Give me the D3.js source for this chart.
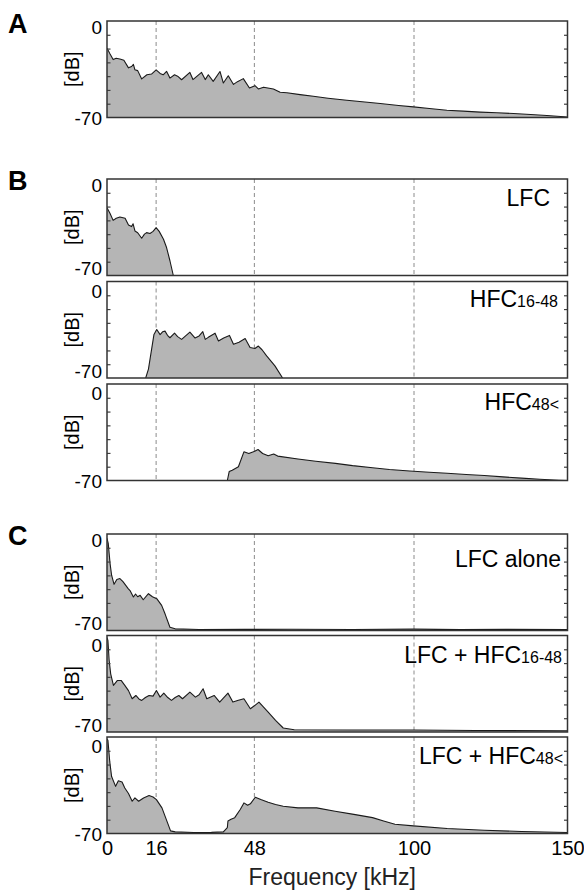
<!DOCTYPE html>
<html><head><meta charset="utf-8">
<script src="https://cdn.jsdelivr.net/npm/d3@7"></script>
<style>
html,body{margin:0;padding:0;background:#fff;}
text{font-family:"Liberation Sans",Arial,Helvetica,sans-serif;}
</style></head>
<body><svg id="chart" width="584" height="891"></svg>
<script>
// ---- data (frequency in kHz, level in dB) ----
const xTicks = [0, 16, 48, 100, 150];
const dashedFreqs = [16, 48, 100];
const yLabelValues = [0, -70];
const yMinorTicks = [-10, -20, -30, -40, -50, -60];

const aFreq = [0,1,2,3,4.2,5.5,7,8,8.6,9.1,10,11.3,13,14.5,16,17.3,18.3,19.4,20.5,22,23,24.3,27,28,30.8,32,33,34.6,36.8,37.9,39.5,41.2,42.5,44.4,46.4,48.2,49.3,51,54.2,56.4,58.6,62.9,67.2,72,78.1,84,89,95,99.8,105,110.7,116,121.6,127,132.4,138,143.3,150];
const aDb   = [-19.7,-24,-28,-27,-27.6,-28.5,-34,-33,-31.5,-35.4,-36,-42,-39,-38.5,-35.4,-38,-39,-36.5,-41.4,-39,-40,-42.6,-37.3,-42.5,-37.3,-42.5,-39,-43.8,-36.6,-45,-39.7,-46,-44,-41.8,-48.6,-46.9,-49.3,-48,-49.3,-51.7,-52,-53.4,-54.6,-56,-57.5,-58.8,-59.9,-61.3,-62.3,-63.5,-64.7,-65.4,-66.1,-66.6,-67.1,-67.8,-68.5,-69.6];

const lfcFreq = [0,1,2,3,4.2,5.9,7,8,8.5,9.1,10,11.3,12.2,12.9,14,15,16,17,18.4,19.4,20.5,21.6];
const lfcDb   = [-20.9,-25,-30,-28.5,-27.6,-28.5,-33.4,-34.5,-32.5,-37.7,-39,-43,-40,-38.9,-39.5,-38,-35.3,-38,-43.7,-49.7,-59.3,-70];

const hfc1648Freq = [12.6,13.5,15.3,16.2,17.3,18.1,18.9,19.7,20.5,22,23,24.3,27,28.7,30,31.2,32,33,35.2,36.3,38,39.9,41.2,43,45,46.6,48.2,49.3,50.5,52,54.7,57.2];
const hfc1648Db   = [-70,-63.5,-38.4,-34.8,-38.5,-36.5,-36,-39,-40.8,-37.5,-40,-42,-36.7,-41,-39.5,-36.4,-42,-40.5,-37.5,-43.2,-41,-39.1,-45.5,-44,-41.4,-47.9,-48.6,-46.8,-49.5,-54,-61.2,-70];

const hfc48Freq = [39.2,39.8,40.8,42.8,44.6,46.2,47.7,49.2,50.7,52.5,54.3,55.6,62.2,68,74.4,80,86.5,92,98.6,105,110.8,117,122.9,129,135,141,147.2,150];
const hfc48Db   = [-70,-63.5,-62.5,-60,-49.2,-50.4,-49.2,-47.5,-50.4,-52,-50.8,-52.3,-54.4,-56,-57.6,-59.2,-60.7,-62,-63.1,-64,-64.7,-65.6,-66.4,-67.4,-68.3,-69.1,-69.8,-70];

const lfcAloneFreq = [0,0.4,1,1.5,2.3,3.2,4.2,5.2,6.9,7.5,8.6,9.3,10,10.8,11.8,13.5,14.8,16.2,17.8,18.9,20.5,22.2,30,45,60,80,100,115,130,150];
const lfcAloneDb   = [-3.1,-6.8,-21.4,-29.9,-36.5,-33,-32.3,-34.5,-39.6,-41,-45.7,-43.5,-45.5,-44.5,-47.7,-43.3,-45.5,-46.9,-51.8,-57.9,-67.6,-68.8,-69.3,-69.2,-69.1,-69.3,-69,-69.4,-69.2,-69.3];

const lfcHfc1648Freq = [0,0.3,0.7,1.2,2.1,3.4,4.6,5.8,7,8.2,9.4,10.4,11.3,12.5,13.7,15,16.1,17.3,18.5,19.8,21,22.2,23.4,24.6,27,28.8,30,31.3,32.5,34.9,36.7,39.4,41,42.8,44.6,46.7,48,49.5,52.5,54.9,57.4,61,80,100,120,150];
const lfcHfc1648Db   = [-1.5,-3.6,-18,-27.8,-36.2,-32.6,-32.6,-36.2,-40,-45.9,-43.5,-46,-47.1,-45,-43.5,-44,-39.9,-44.7,-41.8,-45,-47.1,-45,-43.5,-45.9,-41.1,-44.7,-43,-38.6,-45.9,-43.5,-48.3,-41.8,-48.3,-47,-45.9,-53.1,-51,-48.3,-55.6,-61.6,-67.1,-68.4,-68.6,-68.5,-68.9,-69.2];

const lfcHfc48Freq = [0,0.3,0.9,1.5,2.8,3.7,4.9,5.8,7,8.2,9.1,10.3,11.9,13.7,15,16.1,17.9,19.7,20.7,22.2,28.2,34,37.9,39.2,39.4,40.4,41.6,43.4,44.6,45.8,46.7,48.3,50.1,52.5,54.9,57.4,62.2,68.3,74.3,80.4,86.5,90.1,93.8,99.8,110.8,122.9,135,150];
const lfcHfc48Db   = [-1.5,-2.4,-17.9,-28.7,-35.8,-31.8,-32.7,-37,-41,-46.6,-44.2,-46.6,-44.2,-42.5,-43.5,-45.4,-51.4,-62.1,-68.1,-68.8,-69.3,-69.2,-68.8,-65.7,-60.9,-59.7,-58.5,-52.6,-47.8,-49.5,-48.5,-43.7,-45.4,-47.3,-49,-50.2,-51.4,-51.4,-53.8,-56.1,-58.5,-60.9,-63.3,-64.5,-66.4,-67.6,-68.6,-69.3];

const panelLabels = [null, "LFC", "HFC|16-48", "HFC|48<", "LFC alone", "LFC + HFC|16-48", "LFC + HFC|48<"];
const groupLetters = ["A", "B", "C"];

// ---- layout ----
const svg = d3.select("#chart");
const left = 107, right = 567.5, ph = 96.5;
const panels = [
  {top: 21,    f: aFreq,          d: aDb,          group: 0},
  {top: 179,   f: lfcFreq,        d: lfcDb,        group: 1},
  {top: 281.5, f: hfc1648Freq,    d: hfc1648Db,    group: 1},
  {top: 384,   f: hfc48Freq,      d: hfc48Db,      group: 1},
  {top: 534,   f: lfcAloneFreq,   d: lfcAloneDb,   group: 2},
  {top: 635.5, f: lfcHfc1648Freq, d: lfcHfc1648Db, group: 2},
  {top: 737,   f: lfcHfc48Freq,   d: lfcHfc48Db,   group: 2}
];
const labelStyle = [null,
  {x: 550, dy: 27}, {x: 558, dy: 25}, {x: 559, dy: 26},
  {x: 561, dy: 33}, {x: 562, dy: 27}, {x: 563, dy: 27}];

const x = d3.scaleLinear().domain([0, 150]).range([left, right]);
const defs = svg.append("defs");

panels.forEach((p, i) => {
  const bottom = p.top + ph;
  const y = d3.scaleLinear().domain([-70, 0]).range([bottom, p.top]);
  const g = svg.append("g");
  defs.append("clipPath").attr("id", "clip" + i)
    .append("rect").attr("x", left).attr("y", p.top).attr("width", right - left).attr("height", ph);
  const inner = g.append("g").attr("clip-path", `url(#clip${i})`);

  // dashed reference lines (behind the spectrum)
  inner.selectAll("line.dash").data(dashedFreqs).join("line")
    .attr("x1", d => x(d)).attr("x2", d => x(d))
    .attr("y1", p.top).attr("y2", bottom)
    .attr("stroke", "#8c8c8c").attr("stroke-width", 1).attr("stroke-dasharray", "4,3");

  const pts = p.f.map((f, k) => [f, p.d[k]]);
  const area = d3.area().x(d => x(d[0])).y0(bottom).y1(d => y(d[1]));
  const line = d3.line().x(d => x(d[0])).y(d => y(d[1]));
  inner.append("path").datum(pts).attr("d", area).attr("fill", "#b5b5b5");
  inner.append("path").datum(pts).attr("d", line).attr("fill", "none")
    .attr("stroke", "#1a1a1a").attr("stroke-width", 1.1).attr("stroke-linejoin", "round");

  // inward minor ticks left and right
  const axL = d3.axisLeft(y).tickValues(yMinorTicks).tickSize(-3.5).tickFormat("");
  const axR = d3.axisRight(y).tickValues(yMinorTicks).tickSize(-3.5).tickFormat("");
  const gl = g.append("g").attr("transform", `translate(${left},0)`).call(axL);
  const gr = g.append("g").attr("transform", `translate(${right},0)`).call(axR);
  [gl, gr].forEach(a => { a.select(".domain").remove(); a.selectAll("line").attr("stroke", "#404040").attr("stroke-width", 1.2); });

  // frame
  g.append("rect").attr("x", left).attr("y", p.top).attr("width", right - left).attr("height", ph)
    .attr("fill", "none").attr("stroke", "#333").attr("stroke-width", 1.5);

  // y labels 0 and -70
  const next = panels[i + 1];
  const stacked = next && (next.top - bottom) < 12;
  const prev = panels[i - 1];
  const afterStack = prev && (p.top - (prev.top + ph)) < 12;
  g.selectAll("text.yl").data(yLabelValues).join("text")
    .attr("x", left - 5)
    .attr("y", d => d === 0 ? y(d) + (afterStack ? 9.5 : 6) : y(d) + (stacked ? -7 : 1))
    .attr("dy", "0.36em").attr("text-anchor", "end")
    .attr("font-size", 19).attr("fill", "#000").text(d => d);

  // [dB]
  g.append("text").attr("transform", `translate(${79},${p.top + ph / 2}) rotate(-90)`)
    .attr("text-anchor", "middle").attr("font-size", 20).attr("fill", "#000").text("[dB]");

  // panel label
  const lab = panelLabels[i];
  if (lab) {
    const [main, sub] = lab.split("|");
    const st = labelStyle[i];
    const t = g.append("text").attr("x", st.x).attr("y", p.top + st.dy)
      .attr("text-anchor", "end").attr("fill", "#000");
    t.append("tspan").attr("font-size", 23).text(main);
    if (sub) t.append("tspan").attr("font-size", 16).text(sub);
  }

  // x axis on last panel
  if (i === panels.length - 1) {
    const ax = d3.axisBottom(x).tickValues(xTicks).tickSize(0).tickPadding(7);
    const ga = g.append("g").attr("transform", `translate(0,${bottom})`).call(ax);
    ga.select(".domain").remove();
    ga.selectAll("text").attr("font-size", 20).attr("fill", "#000")
      .attr("font-family", '"Liberation Sans",Arial,sans-serif');
    svg.append("text").attr("x", (left + right) / 2 - 5).attr("y", 885)
      .attr("text-anchor", "middle").attr("font-size", 23).attr("fill", "#222").text("Frequency [kHz]");
  }
});

// group letters
const letterY = [33, 190, 545];
groupLetters.forEach((L, k) => {
  svg.append("text").attr("x", 8).attr("y", letterY[k]).attr("font-size", 27)
    .attr("font-weight", "bold").attr("fill", "#000").text(L);
});
</script>
</body></html>
